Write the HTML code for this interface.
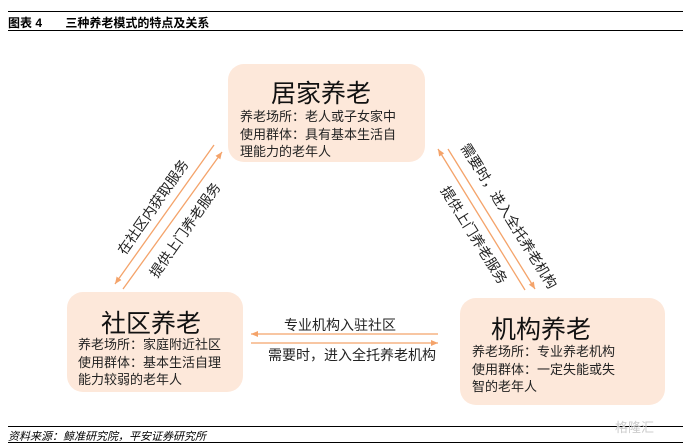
<!DOCTYPE html>
<html><head><meta charset="utf-8"><style>
body{margin:0;width:691px;height:446px;background:#fff;position:relative;overflow:hidden;font-family:"Liberation Sans","Noto Sans CJK SC",sans-serif;color:#222}
.a{position:absolute}
.box{position:absolute;background:#fde8da;border-radius:16px}
.t{position:absolute;font-size:25px;white-space:nowrap;color:#111}
.b{position:absolute;font-size:13px;line-height:17.5px;white-space:nowrap;color:#222}
.r{position:absolute;font-size:14px;white-space:nowrap;transform-origin:center center}
</style></head><body>
<div class="a" style="left:8px;top:11px;width:675px;border-top:1.5px solid #000"></div>
<div class="a" style="left:8px;top:14px;font-size:12px;font-weight:bold;color:#000">图表 4&nbsp;&nbsp;&nbsp;&nbsp;&nbsp;&nbsp;&nbsp;三种养老模式的特点及关系</div>
<div class="a" style="left:8px;top:30px;width:675px;border-top:1.5px solid #000"></div>

<div class="box" style="left:228px;top:64px;width:197px;height:98px"></div>
<div class="t" style="left:271px;top:74px">居家养老</div>
<div class="b" style="left:240px;top:108px">养老场所：老人或子女家中<br>使用群体：具有基本生活自<br>理能力的老年人</div>

<div class="box" style="left:67px;top:292px;width:176px;height:100px"></div>
<div class="t" style="left:101px;top:304px">社区养老</div>
<div class="b" style="left:78px;top:336px">养老场所：家庭附近社区<br>使用群体：基本生活自理<br>能力较弱的老年人</div>

<div class="box" style="left:460px;top:298px;width:205px;height:107px"></div>
<div class="t" style="left:491px;top:310px">机构养老</div>
<div class="b" style="left:472px;top:343px">养老场所：专业养老机构<br>使用群体：一定失能或失<br>智的老年人</div>

<svg class="a" style="left:0;top:0" width="691" height="446">
<defs><marker id="m" markerWidth="8" markerHeight="8" refX="7" refY="4" orient="auto" markerUnits="userSpaceOnUse"><path d="M0,1 L7,4 L0,7 z" fill="#f4a36a"/></marker></defs>
<g stroke="#f4a36a" stroke-width="1.3" fill="none">
<line x1="214" y1="145" x2="115" y2="284" marker-end="url(#m)"/>
<line x1="123" y1="289" x2="222" y2="152" marker-end="url(#m)"/>
<line x1="525" y1="290" x2="438" y2="149" marker-end="url(#m)"/>
<line x1="448" y1="149" x2="535" y2="289" marker-end="url(#m)"/>
<line x1="438" y1="334" x2="251" y2="334" marker-end="url(#m)"/>
<line x1="251" y1="343" x2="438" y2="343" marker-end="url(#m)"/>
</g></svg>

<div class="r" style="left:93px;top:197px;width:120px;text-align:center;transform:rotate(-55deg)">在社区内获取服务</div>
<div class="r" style="left:125px;top:220px;width:120px;text-align:center;transform:rotate(-55deg)">提供上门养老服务</div>
<div class="r" style="left:419px;top:206px;width:180px;text-align:center;transform:rotate(58deg)">需要时，进入全托养老机构</div>
<div class="r" style="left:414px;top:225px;width:120px;text-align:center;transform:rotate(58deg)">提供上门养老服务</div>
<div class="r" style="left:284px;top:315px">专业机构入驻社区</div>
<div class="r" style="left:268px;top:345px">需要时，进入全托养老机构</div>

<div class="a" style="left:8px;top:426px;width:675px;border-top:1.5px solid #000"></div>
<div class="a" style="left:8px;top:428px;font-size:11px;font-style:italic;color:#000">资料来源：鲸准研究院，平安证券研究所</div>
<div class="a" style="left:8px;top:442px;width:675px;border-top:1.5px solid #000"></div>
<div class="a" style="left:615px;top:417px;font-size:13px;color:#ccc">格隆汇</div>
</body></html>
